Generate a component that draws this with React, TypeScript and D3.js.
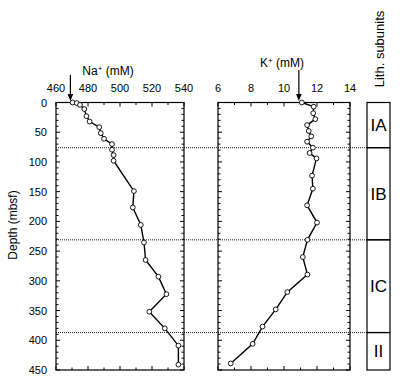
import React from "react";
import * as d3 from "d3";

const naDepth = [0, 1, 4, 11, 23, 32, 41.5, 51.5, 61, 70, 79.5, 88.5, 98, 149, 176.5, 206, 235.5, 265, 293, 322.5, 352, 380, 409, 441];
const naValue = [470.4, 473, 475, 477.7, 479, 481, 487, 488, 490, 495, 495, 496, 496, 508.7, 508, 513, 515, 516, 524, 529, 518.3, 528, 536.5, 536.5];

const kDepth = [0, 7, 18, 28, 38, 48, 57, 66, 76, 85, 94, 123, 145, 173, 202, 231, 260, 289.5, 319, 348, 377, 406, 439];
const kValue = [11.08, 11.8, 11.77, 11.9, 11.4, 11.5, 11.65, 11.4, 11.75, 11.55, 11.97, 11.7, 11.75, 11.4, 12.0, 11.42, 11.14, 11.42, 10.2, 9.5, 8.7, 8.1, 6.77];

const naTicks = [460, 480, 500, 520, 540];
const kTicks = [6, 8, 10, 12, 14];
const depthTicks = [0, 50, 100, 150, 200, 250, 300, 350, 400, 450];
const boundaries = [76, 231, 387];
const subunits = ["IA", "IB", "IC", "II"];
const subunitTops = [0, 76, 231, 387];
const subunitBottoms = [76, 231, 387, 450];
const naSeawater = 469;
const kSeawater = 10.9;

const FONT = "Liberation Sans, Arial, Helvetica, sans-serif";

export default function App() {
  const y = d3.scaleLinear().domain([0, 450]).range([102.5, 370]);
  const xNa = d3.scaleLinear().domain([460, 540]).range([56, 184]);
  const xK = d3.scaleLinear().domain([6, 14]).range([218, 350]);
  const lithX0 = 367;
  const lithX1 = 390;

  const naData = naDepth.map((d, i) => [naValue[i], d] as [number, number]);
  const kData = kDepth.map((d, i) => [kValue[i], d] as [number, number]);

  const panel = (x: d3.ScaleLinear<number, number>, ticks: number[], minorStep: number, data: [number, number][], key: string) => {
    const [x0, x1] = x.range();
    const [d0, d1] = x.domain();
    const minorX = d3.range(d0, d1 + 1e-9, minorStep);
    const minorY = d3.range(0, 451, 10);
    const line = d3.line<[number, number]>().x((d) => x(d[0])).y((d) => y(d[1]));
    const yTop = y(0);
    const yBot = y(450);
    return (
      <g key={key}>
        <rect x={x0} y={yTop} width={x1 - x0} height={yBot - yTop} fill="none" stroke="#000" strokeWidth={1.2} />
        {minorX.map((v, i) => {
          const major = ticks.includes(Math.round(v * 1000) / 1000);
          const len = major ? 4 : 2.5;
          return (
            <g key={"xt" + i}>
              <line x1={x(v)} x2={x(v)} y1={yTop} y2={yTop + len} stroke="#000" strokeWidth={1} />
              <line x1={x(v)} x2={x(v)} y1={yBot} y2={yBot - len} stroke="#000" strokeWidth={1} />
            </g>
          );
        })}
        {minorY.map((v, i) => {
          const major = v % 50 === 0;
          const len = major ? 4 : 2.5;
          return (
            <g key={"yt" + i}>
              <line x1={x0} x2={x0 + len} y1={y(v)} y2={y(v)} stroke="#000" strokeWidth={1} />
              <line x1={x1} x2={x1 - len} y1={y(v)} y2={y(v)} stroke="#000" strokeWidth={1} />
            </g>
          );
        })}
        {ticks.map((t) => (
          <text key={"tl" + t} x={x(t)} y={92} textAnchor="middle" fontSize={11} fontFamily={FONT} fill="#000">
            {t}
          </text>
        ))}
        <path d={line(data) || ""} fill="none" stroke="#000" strokeWidth={1.4} />
        {data.map((d, i) => (
          <circle key={"c" + i} cx={x(d[0])} cy={y(d[1])} r={2.4} fill="#fff" stroke="#000" strokeWidth={0.9} />
        ))}
      </g>
    );
  };

  const arrow = (xPos: number, yStart: number, yEnd: number) => (
    <g>
      <line x1={xPos} x2={xPos} y1={yStart} y2={yEnd - 5} stroke="#000" strokeWidth={1.2} />
      <path d={`M${xPos - 2.8},${yEnd - 7} L${xPos + 2.8},${yEnd - 7} L${xPos},${yEnd} Z`} fill="#000" />
    </g>
  );

  return (
    <svg width={409} height={382} style={{ position: "absolute", left: 0, top: 0 }}>
      <rect x={0} y={0} width={409} height={382} fill="#fff" />
      {boundaries.map((b) => (
        <line key={"b" + b} x1={xNa.range()[0]} x2={lithX0} y1={y(b)} y2={y(b)} stroke="#222" strokeWidth={1} strokeDasharray="1,1" />
      ))}
      {panel(xNa, naTicks, 10, naData, "na")}
      {panel(xK, kTicks, 1, kData, "k")}
      {depthTicks.map((t) => (
        <text key={"d" + t} x={47} y={y(t) + 4} textAnchor="end" fontSize={11} fontFamily={FONT} fill="#000">
          {t}
        </text>
      ))}
      <text transform={`translate(17,225) rotate(-90)`} textAnchor="middle" fontSize={12} fontFamily={FONT} fill="#000">
        Depth (mbsf)
      </text>
      <text x={108} y={75} textAnchor="middle" fontSize={12} fontFamily={FONT} fill="#000">
        Na<tspan dy={-4} fontSize={8}>+</tspan><tspan dy={4}> (mM)</tspan>
      </text>
      <text x={282} y={67} textAnchor="middle" fontSize={12} fontFamily={FONT} fill="#000">
        K<tspan dy={-4} fontSize={8}>+</tspan><tspan dy={4}> (mM)</tspan>
      </text>
      {arrow(xNa(naSeawater), 75, 101)}
      {arrow(xK(kSeawater), 70, 101)}
      <text transform={`translate(384,49) rotate(-90)`} textAnchor="middle" fontSize={13} fontFamily={FONT} fill="#000">
        Lith. subunits
      </text>
      {subunits.map((s, i) => (
        <g key={s}>
          <rect x={lithX0} y={y(subunitTops[i])} width={lithX1 - lithX0} height={y(subunitBottoms[i]) - y(subunitTops[i])} fill="none" stroke="#000" strokeWidth={1.2} />
          <text x={(lithX0 + lithX1) / 2} y={(y(subunitTops[i]) + y(subunitBottoms[i])) / 2 + 6} textAnchor="middle" fontSize={17} fontFamily={FONT} fill="#000">
            {s}
          </text>
        </g>
      ))}
    </svg>
  );
}
